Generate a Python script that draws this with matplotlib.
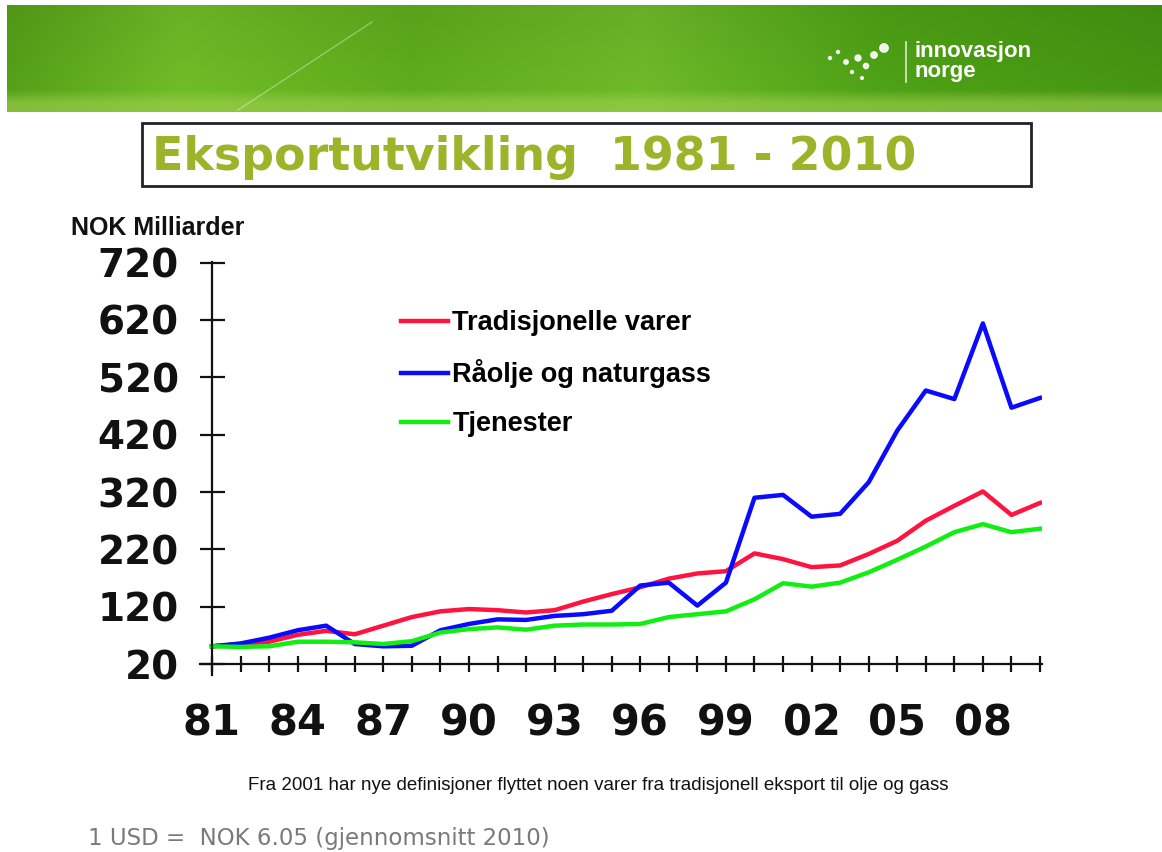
import numpy as np
import matplotlib
matplotlib.use("Agg")
import matplotlib.pyplot as plt
from matplotlib.patches import Rectangle, Circle

W, H = 1162, 852

years = list(range(1981, 2011))
tradisjonelle = [51, 55, 59, 71, 78, 72, 87, 102, 112, 116, 114, 110, 114, 129, 142,
                 154, 169, 178, 182, 213, 203, 189, 192, 212, 235, 270, 296, 321, 280, 301]
raaolje = [51, 56, 66, 79, 87, 55, 51, 52, 79, 90, 98, 97, 104, 107, 113,
           157, 162, 122, 162, 310, 315, 277, 282, 337, 427, 497, 482, 614, 467, 484]
tjenester = [51, 50, 51, 59, 59, 58, 55, 60, 75, 81, 84, 80, 87, 89, 89,
             90, 102, 107, 112, 133, 161, 155, 162, 180, 202, 225, 250, 264, 250, 256]

series_names = ["Tradisjonelle varer", "Råolje og naturgass", "Tjenester"]
series_colors = ["#ff1440", "#0a0aff", "#11ee11"]

y_ticks = [20, 120, 220, 320, 420, 520, 620, 720]
x_label_years = [1981, 1984, 1987, 1990, 1993, 1996, 1999, 2002, 2005, 2008]

TITLE = "Eksportutvikling  1981 - 2010"
UNIT = "NOK Milliarder"
NOTE = "Fra 2001 har nye definisjoner flyttet noen varer fra tradisjonell eksport til olje og gass"
RATE = "1 USD =  NOK 6.05 (gjennomsnitt 2010)"


def banner_image(nx=600, ny=60):
    # horizontal green gradient with a lighter band along the bottom edge
    stops = [0.0, 0.15, 0.35, 0.55, 0.75, 1.0]
    r = np.interp(np.linspace(0, 1, nx), stops, [86, 114, 96, 112, 80, 70])
    g = np.interp(np.linspace(0, 1, nx), stops, [164, 192, 176, 190, 166, 152])
    b = np.interp(np.linspace(0, 1, nx), stops, [24, 40, 28, 42, 22, 18])
    row = np.stack([r, g, b], axis=-1) / 255.0
    img = np.repeat(row[None, :, :], ny, axis=0)
    v = np.linspace(0, 1, ny)[:, None, None]
    img = img * (0.92 + 0.08 * v)
    light = np.array([160, 205, 80]) / 255.0
    mix = np.clip((v - 0.80) / 0.12, 0, 1) * 0.6
    img = (1 - mix) * img + mix * light
    return np.clip(img, 0, 1)


def main():
    fig = plt.figure(figsize=(W / 100, H / 100), dpi=100)
    fig.patch.set_facecolor("white")

    # decoration layer in pixel coordinates
    deco = fig.add_axes([0, 0, 1, 1], zorder=0)
    deco.imshow(banner_image(), extent=(7, W, 112, 5), aspect="auto", interpolation="bilinear")
    deco.set_xlim(0, W)
    deco.set_ylim(H, 0)
    deco.axis("off")

    deco.plot([238, 372], [110, 22], color="white", alpha=0.35, lw=1)
    for cx, cy, rr in [(830, 58, 1.5), (838, 52, 1.5), (846, 62, 2.2), (852, 72, 1.5),
                       (858, 58, 3.0), (866, 66, 2.6), (874, 55, 3.2), (884, 48, 4.2),
                       (862, 78, 1.4)]:
        deco.add_patch(Circle((cx, cy), rr, color="white", alpha=0.9))
    deco.plot([906, 906], [42, 82], color="white", lw=1.2, alpha=0.8)
    deco.text(915, 51, "innovasjon", color="white", fontsize=16, fontweight="bold",
              family="Liberation Sans", va="center", ha="left")
    deco.text(915, 72, "norge", color="white", fontsize=16, fontweight="bold",
              family="Liberation Sans", va="center", ha="left")

    deco.add_patch(Rectangle((142, 123), 889, 63, fill=False, lw=2, ec="#222222"))
    deco.text(152, 157, TITLE, color="#9db42a", fontsize=33, fontweight="bold",
              family="DejaVu Sans", va="center", ha="left")

    deco.text(71, 228, UNIT, fontsize=18, fontweight="bold", family="Liberation Sans",
              va="center", ha="left", color="#111111")
    deco.text(598, 786, NOTE, fontsize=13.5, family="Liberation Sans",
              va="center", ha="center", color="#111111")
    deco.text(88, 838, RATE, fontsize=16.5, family="DejaVu Sans",
              va="center", ha="left", color="#7a7a7a")

    # chart
    ax = fig.add_axes([200 / W, 1 - 675 / H, 842 / W, 413 / H], zorder=1)
    ax.patch.set_alpha(0)
    ax.set_xlim(1980.58, 2010.07)
    ax.set_ylim(1, 721)

    for vals, name, col in zip([tradisjonelle, raaolje, tjenester], series_names, series_colors):
        ax.plot(years, vals, color=col, lw=3.2, label=name, solid_joinstyle="round")

    ax.spines["top"].set_visible(False)
    ax.spines["right"].set_visible(False)
    ax.spines["left"].set_position(("data", 1981))
    ax.spines["bottom"].set_position(("data", 20))
    for s in ("left", "bottom"):
        ax.spines[s].set_linewidth(1.6)
        ax.spines[s].set_color("#111111")

    ax.set_yticks(y_ticks)
    ax.set_yticklabels([str(v) for v in y_ticks])
    ax.set_xticks(years)
    ax.set_xticklabels([f"{y % 100:02d}" if y in x_label_years else "" for y in years])
    ax.tick_params(axis="y", direction="inout", length=18, width=1.6, pad=15,
                   labelsize=28, colors="#111111")
    ax.tick_params(axis="x", direction="inout", length=12, width=1.6, pad=22,
                   labelsize=30, colors="#111111")
    for lab in ax.get_xticklabels() + ax.get_yticklabels():
        lab.set_fontweight("bold")
        lab.set_family("DejaVu Sans")

    leg = ax.legend(loc="upper left", bbox_to_anchor=(401 / W, 1 - 310 / H),
                    bbox_transform=fig.transFigure, frameon=False,
                    prop={"family": "Liberation Sans", "weight": "bold", "size": 19.5},
                    handlelength=1.75, handletextpad=0.15, labelspacing=0.85,
                    borderpad=0, borderaxespad=0)
    for line in leg.get_lines():
        line.set_linewidth(3.2)

    fig.savefig("out.png", dpi=100)
    plt.close(fig)


if __name__ == "__main__":
    main()
